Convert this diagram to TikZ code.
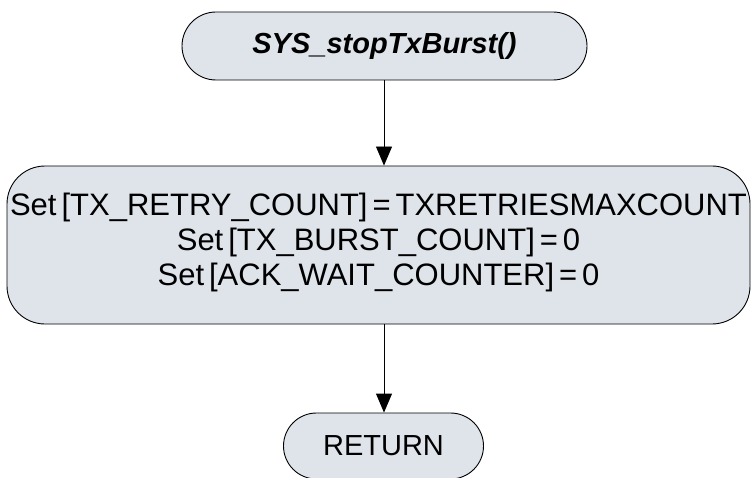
\documentclass[tikz,border=0pt]{standalone}
\usepackage{fontspec}
\setmainfont{Liberation Sans}
\usetikzlibrary{arrows.meta}
\definecolor{boxfill}{HTML}{DFE4EB}
\newcommand\mytightspace{\spaceskip=0.16em plus 0.05em\relax}
\tikzset{
  term/.style={draw=black, line width=0.9pt, fill=boxfill, rounded corners=#1, inner sep=0pt, align=center},
  flow/.style={draw=black, line width=0.9pt, -{Triangle[width=16pt,length=19pt]}}
}
\begin{document}
\begin{tikzpicture}[x=1pt,y=1pt]
\useasboundingbox (0,0) rectangle (751,477);
\clip (0,0) rectangle (751,477);
\node[term=34pt, minimum width=405pt, minimum height=68pt, font=\fontsize{29}{35}\selectfont\bfseries\itshape] (start) at (384.5,431) {SYS\_stopTxBurst()};
\node[term=38pt, minimum width=743pt, minimum height=158pt] (set) at (378.5,232) {};
\node[inner sep=0pt, align=center, font=\fontsize{31}{35}\selectfont] (settext) at ([yshift=3pt]set.center) {\mytightspace Set [TX\_RETRY\_COUNT] = TXRETRIESMAXCOUNT\\\mytightspace Set [TX\_BURST\_COUNT] = 0\\\mytightspace Set [ACK\_WAIT\_COUNTER] = 0};
\node[term=33pt, minimum width=200pt, minimum height=66pt, font=\fontsize{29}{35}\selectfont] (ret) at (383.5,31) {RETURN};
\draw[flow] (start.south -| 384,0) -- (set.north -| 384,0);
\draw[flow] (set.south -| 384,0) -- (ret.north -| 384,0);
\end{tikzpicture}
\end{document}
